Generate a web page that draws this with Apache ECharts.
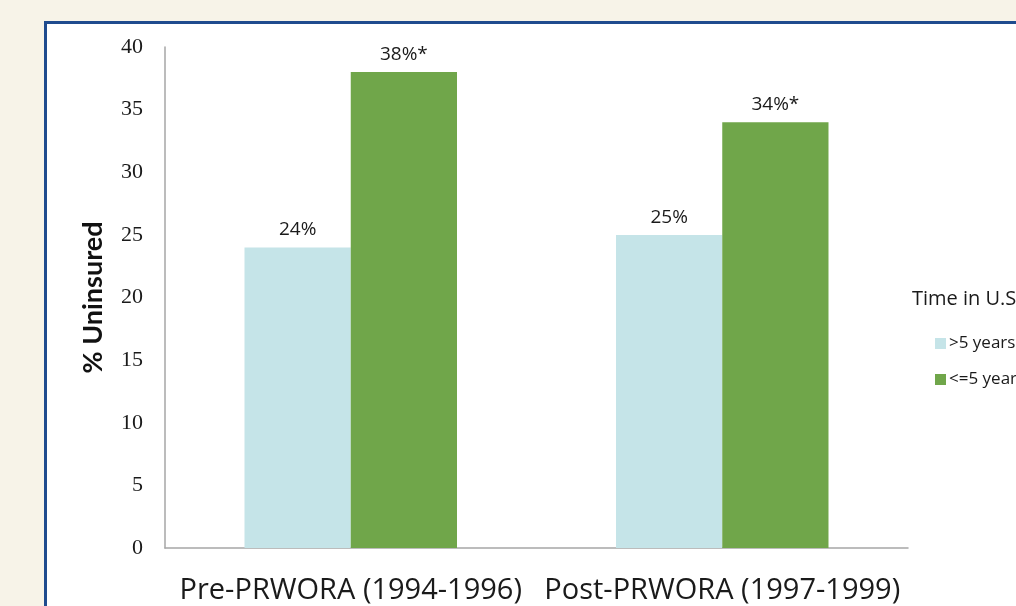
<!DOCTYPE html>
<html>
<head>
<meta charset="utf-8">
<script src="https://cdn.jsdelivr.net/npm/echarts@6/dist/echarts.min.js"></script>
<style>
  html, body { margin: 0; padding: 0; background: #f7f3e8; }
  #chart { width: 1016px; height: 606px; }
</style>
</head>
<body>
<div id="chart"></div>
<script>
// Uninsured rate by period and time in the U.S.
const periods = ['Pre-PRWORA (1994-1996)', 'Post-PRWORA (1997-1999)'];
const seriesNames = ['>5 years', '<=5 years'];
const over5Years = [24, 25];
const under5Years = [38, 34];
const over5Labels = ['24%', '25%'];
const under5Labels = ['38%*', '34%*'];
const yTicks = [0, 5, 10, 15, 20, 25, 30, 35, 40];

const chart = echarts.init(document.getElementById('chart'), null, { renderer: 'canvas' });

const labelFont = { fontFamily: '"Open Sans", Lato, sans-serif', fontSize: 19, color: '#1a1a1a' };

chart.setOption({
  backgroundColor: 'transparent',
  animation: false,
  graphic: [
    {
      type: 'rect',
      z: -10,
      shape: { x: 45.5, y: 22.5, width: 1100, height: 700 },
      style: { fill: '#ffffff', stroke: '#1f4b8e', lineWidth: 3 }
    },
    {
      type: 'text',
      left: 912,
      top: 289,
      style: { text: 'Time in U.S.', fontFamily: '"Open Sans", sans-serif', fontSize: 20, fill: '#1a1a1a' }
    }
  ],
  grid: { left: 165, right: 108, top: 47, bottom: 58, containLabel: false },
  legend: {
    orient: 'vertical',
    left: 930,
    top: 330,
    itemWidth: 11,
    itemHeight: 11,
    itemGap: 19,
    icon: 'rect',
    data: seriesNames,
    textStyle: { fontFamily: '"Open Sans", sans-serif', fontSize: 17, color: '#1a1a1a', padding: [0, 0, 0, -2] }
  },
  xAxis: {
    type: 'category',
    data: periods,
    axisLine: { lineStyle: { color: '#a6a6a6', width: 1.5 } },
    axisTick: { show: false },
    axisLabel: {
      interval: 0,
      hideOverlap: false,
      margin: 28,
      fontFamily: '"Open Sans", sans-serif',
      fontSize: 29,
      color: '#1a1a1a'
    }
  },
  yAxis: {
    type: 'value',
    min: 0,
    max: 40,
    interval: 5,
    name: '% Uninsured',
    nameLocation: 'middle',
    nameGap: 58,
    nameRotate: 90,
    nameTextStyle: { fontFamily: 'Lato, sans-serif', fontWeight: 'bold', fontSize: 27, color: '#111' },
    axisLine: { show: true, lineStyle: { color: '#a6a6a6', width: 1.5 } },
    axisTick: { show: false },
    splitLine: { show: false },
    axisLabel: {
      margin: 22,
      fontFamily: '"Liberation Serif", "DejaVu Serif", serif',
      fontSize: 22,
      color: '#1a1a1a',
      formatter: v => yTicks.includes(v) ? String(v) : ''
    }
  },
  series: [
    {
      name: seriesNames[0],
      type: 'bar',
      data: over5Years,
      barWidth: '28.6%',
      barGap: '0%',
      itemStyle: { color: '#c5e4e8' },
      label: {
        show: true,
        position: 'top',
        distance: 8,
        formatter: p => over5Labels[p.dataIndex],
        ...labelFont
      }
    },
    {
      name: seriesNames[1],
      type: 'bar',
      data: under5Years,
      barWidth: '28.6%',
      itemStyle: { color: '#70a64a' },
      label: {
        show: true,
        position: 'top',
        distance: 8,
        formatter: p => under5Labels[p.dataIndex],
        ...labelFont
      }
    }
  ]
});
</script>
</body>
</html>
